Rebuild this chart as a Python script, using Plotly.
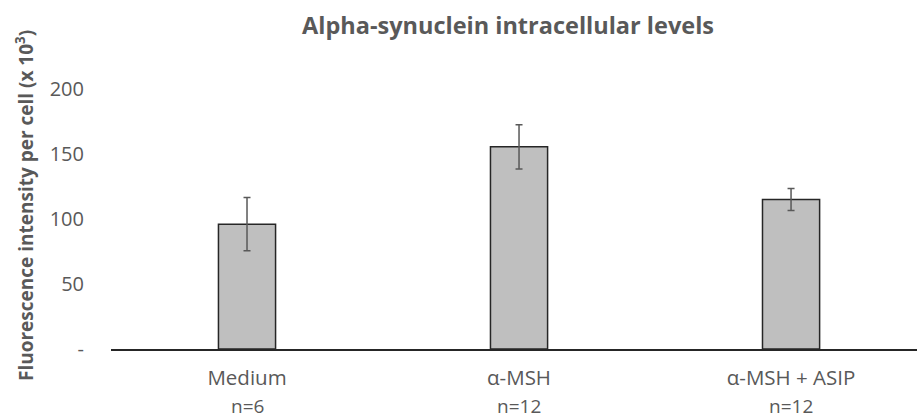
import plotly.graph_objects as go

categories = ["Medium", "α-MSH", "α-MSH + ASIP"]
n_labels = ["n=6", "n=12", "n=12"]
means = [96, 155.5, 115]
errors = [20.5, 17, 8.5]
y_tickvals = [0, 50, 100, 150, 200]
y_ticktext = ["-", "50", "100", "150", "200"]

FONT = "Open Sans"
GREY = "#595959"

fig = go.Figure()
fig.add_trace(go.Bar(
    x=categories, y=means,
    width=0.21,
    marker=dict(color="#bfbfbf", line=dict(color="#262626", width=1.5)),
    error_y=dict(type="data", array=errors, visible=True,
                 color=GREY, thickness=1.5, width=3.5),
))

for cat, n in zip(categories, n_labels):
    fig.add_annotation(x=cat, y=0, xref="x", yref="paper", text=n,
                       showarrow=False, yshift=-57, yanchor="middle",
                       font=dict(family=FONT, size=19, color=GREY))

fig.update_layout(
    width=917, height=420,
    margin=dict(l=111, r=0, t=63, b=71),
    plot_bgcolor="white", paper_bgcolor="white",
    showlegend=False,
    title=dict(text="<b>Alpha-synuclein intracellular levels</b>",
               x=508/917, xanchor="center", y=1-26/420, yanchor="middle",
               font=dict(family=FONT, size=23.5, color=GREY)),
    xaxis=dict(range=[-0.5, 2.463], showline=True, linecolor="#262626",
               linewidth=1.5, ticks="", showgrid=False,
               ticklabelstandoff=10,
               tickfont=dict(family=FONT, size=20.5, color=GREY)),
    yaxis=dict(range=[0, 220], tickvals=y_tickvals, ticktext=y_ticktext,
               showgrid=False, zeroline=False, showline=False, ticks="",
               ticklabelstandoff=26,
               tickfont=dict(family=FONT, size=20, color=GREY)),
)
fig.add_annotation(text="<b>Fluorescence intensity per cell (x 10<sup>3</sup>)</b>",
                   xref="paper", yref="paper", x=-86/806, y=(349-206)/286,
                   xanchor="center", yanchor="middle", textangle=-90,
                   showarrow=False,
                   font=dict(family=FONT, size=19, color=GREY))

fig.write_html("out.html")
